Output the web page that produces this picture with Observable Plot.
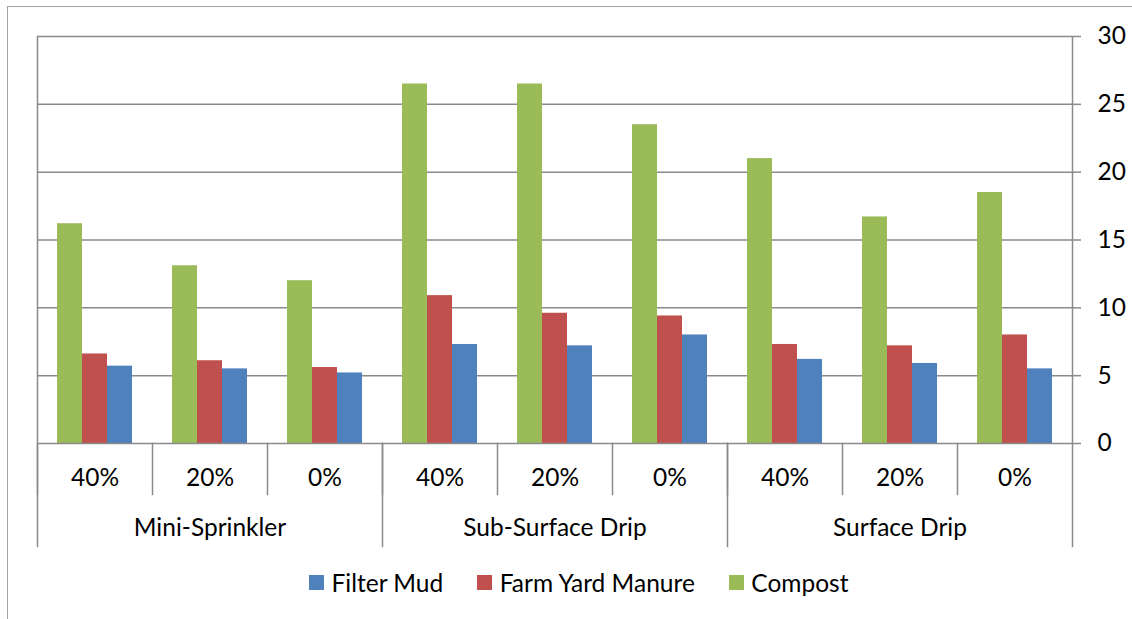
<!DOCTYPE html>
<html>
<head>
<meta charset="utf-8">
<script src="https://cdn.jsdelivr.net/npm/d3@7"></script>
<script src="https://cdn.jsdelivr.net/npm/@observablehq/plot@0.6"></script>
<style>
  html, body { margin: 0; padding: 0; background: #fff; }
  #wrap { position: relative; width: 1132px; height: 619px; overflow: hidden; font-family: Lato, "Noto Sans", sans-serif; }
  #chart { position: absolute; left: 0; top: 0; }
  #border { position: absolute; left: 7px; top: 6px; right: -4px; bottom: -4px;
            border-left: 1.5px solid #a3a3a3; border-top: 1.5px solid #a3a3a3; pointer-events: none; }
  #legend { position: absolute; left: 309px; top: 568px; display: flex; align-items: center; gap: 34px;
            font-size: 24.5px; color: #000; white-space: nowrap; }
  .item { display: flex; align-items: center; gap: 7.5px; }
  .swatch { width: 15px; height: 15px; display: inline-block; }
</style>
</head>
<body>
<div id="wrap">
  <div id="chart"></div>
  <div id="border"></div>
  <div id="legend"></div>
</div>
<script>
// Irrigation systems (outer category level) and deficit levels (inner level)
const systems = ["Mini-Sprinkler", "Sub-Surface Drip", "Surface Drip"];
const levels = ["40%", "20%", "0%"];

// Values per system × level, in order: Mini-Sprinkler 40/20/0, Sub-Surface Drip 40/20/0, Surface Drip 40/20/0
const compost        = [16.2, 13.1, 12.0, 26.5, 26.5, 23.5, 21.0, 16.7, 18.5];
const farmYardManure = [6.6, 6.1, 5.6, 10.9, 9.6, 9.4, 7.3, 7.2, 8.0];
const filterMud      = [5.7, 5.5, 5.2, 7.3, 7.2, 8.0, 6.2, 5.9, 5.5];

// Bar order within each group, and legend order
const seriesNames = ["Compost", "Farm Yard Manure", "Filter Mud"];
const legendOrder = ["Filter Mud", "Farm Yard Manure", "Compost"];
const seriesColors = ["#9bbb59", "#c0504d", "#4f81bd"];
const yTicks = [0, 5, 10, 15, 20, 25, 30];

// Category table (one row per system × level)
const cats = systems.flatMap(s => levels.map(l => ({system: s, level: l, key: s + " | " + l})));
const keys = cats.map(c => c.key);
const seriesValues = [compost, farmYardManure, filterMud];
const rows = seriesNames.flatMap((name, si) =>
  cats.map((c, ci) => ({key: c.key, series: name, value: seriesValues[si][ci]})));

// First and middle category of every system
const firstKeys = systems.map(s => cats.find(c => c.system === s).key);
const groups = systems.map(s => ({name: s, key: cats.filter(c => c.system === s)[1].key}));

const W = 1132, H = 560, mTop = 36, mBottom = 117, mLeft = 37, mRight = 60;
const innerH = H - mTop - mBottom;
const axisGray = "#8a8a8a";
const fontSize = 24.5;

const marks = [
  // horizontal grid
  Plot.ruleY(yTicks.slice(1), {stroke: axisGray, strokeWidth: 1.5}),
  // bars
  Plot.barY(rows, {fx: "key", x: "series", y: "value", fill: "series", inset: 0}),
  // baseline
  Plot.ruleY([0], {stroke: axisGray, strokeWidth: 1.5}),
  // short separators between deficit levels
  Plot.frame({anchor: "left", stroke: axisGray, strokeWidth: 1.5, insetTop: innerH, insetBottom: -51}),
  // long separators between irrigation systems
  ...firstKeys.map((k, i) => Plot.frame({anchor: "left", fx: () => k, stroke: axisGray, strokeWidth: 1.5,
                                         insetTop: i === 0 ? 0 : innerH, insetBottom: -103})),
  Plot.frame({anchor: "right", fx: () => keys[keys.length - 1], stroke: axisGray, strokeWidth: 1.5, insetBottom: -103}),
  // right value axis
  Plot.axisY({anchor: "right", ticks: yTicks, tickSize: 8, tickPadding: 17, stroke: axisGray, strokeWidth: 1.5,
              fontSize, fill: "#000", label: null, tickFormat: d => String(d)}),
  // level labels
  Plot.text(cats, {fx: "key", text: "level", frameAnchor: "bottom", dy: 42, fontSize, fill: "#000"}),
  // system labels
  Plot.text(groups, {fx: "key", text: "name", frameAnchor: "bottom", dy: 92, fontSize, fill: "#000"})
];

const chart = Plot.plot({
  width: W, height: H,
  marginTop: mTop, marginBottom: mBottom, marginLeft: mLeft, marginRight: mRight,
  style: {fontFamily: "Lato, 'Noto Sans', sans-serif", fontSize: fontSize + "px", color: "#000", background: "transparent", overflow: "visible"},
  fx: {domain: keys, padding: 0, axis: null},
  x: {domain: seriesNames, paddingInner: 0, paddingOuter: 0.76, axis: null},
  y: {domain: [0, 30]},
  color: {domain: seriesNames, range: seriesColors},
  marks
});
document.getElementById("chart").appendChild(chart);

// legend below the chart
const legend = document.getElementById("legend");
for (const name of legendOrder) {
  const item = document.createElement("div");
  item.className = "item";
  const sw = document.createElement("span");
  sw.className = "swatch";
  sw.style.background = seriesColors[seriesNames.indexOf(name)];
  const lab = document.createElement("span");
  lab.textContent = name;
  item.append(sw, lab);
  legend.appendChild(item);
}
</script>
</body>
</html>
